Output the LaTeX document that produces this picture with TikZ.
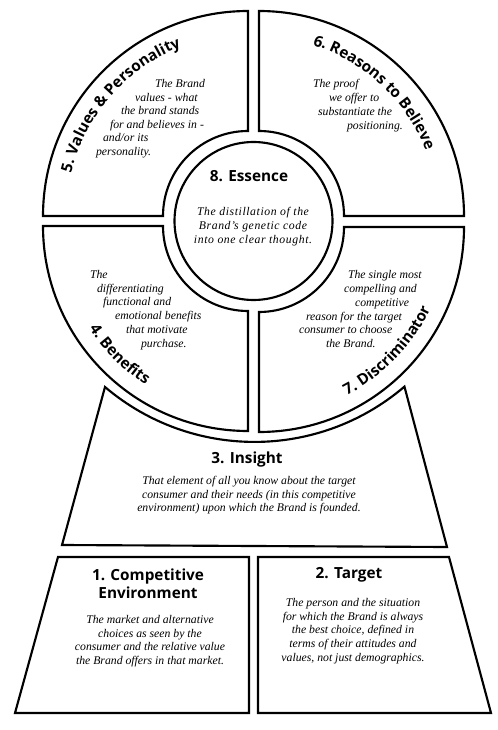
\documentclass[tikz,border=0pt]{standalone}
\usepackage{fontspec}
\setmainfont{Liberation Serif}
\setsansfont{Open Sans}
\usetikzlibrary{decorations.text}

\tikzset{every picture/.style={line width=1.6pt}}
\tikzset{
  body/.style={inner sep=0.75pt, font=\fontsize{8.8}{10.2}\selectfont\itshape},
  head/.style={inner sep=0.75pt, align=center, font=\fontsize{11.5}{13.5}\selectfont\sffamily\bfseries},
}
\newcommand\arcfont{\fontsize{11.5}{13.5}\selectfont\sffamily\bfseries}

\begin{document}
\begin{tikzpicture}[x=0.75pt,y=0.75pt,yscale=-1,xscale=1]
\useasboundingbox (0,0) rectangle (498,730);

%Shape: Trapezoid [id:insight]
\draw (62,545) -- (105,387) arc[start angle=130.35, end angle=49.5, radius=230.9] -- (447,547) -- cycle ;
%Shape: Quarter ring [id:values]
\draw (43,216) arc[start angle=180, end angle=270, radius=205] -- (248,131) arc[start angle=270, end angle=180, radius=85] -- cycle ;
%Shape: Quarter ring [id:reasons]
\draw (259,11) arc[start angle=270, end angle=360, radius=205] -- (344,216) arc[start angle=0, end angle=-90, radius=85] -- cycle ;
%Shape: Quarter ring [id:benefits]
\draw (43,226) arc[start angle=180, end angle=90, radius=205] -- (248,311) arc[start angle=90, end angle=180, radius=85] -- cycle ;
%Shape: Quarter ring [id:discrim]
\draw (464,227) arc[start angle=0, end angle=90, radius=205] -- (259,312) arc[start angle=90, end angle=0, radius=85] -- cycle ;
%Shape: Circle [id:essence]
\draw (253.5,221) circle[radius=79] ;
%Shape: Box [id:compenv]
\draw (58,557) -- (249,557) -- (249,713) -- (15,713) -- cycle ;
%Shape: Box [id:target]
\draw (258,557) -- (449,557) -- (491,713) -- (258,713) -- cycle ;

% Curved titles
\path [decorate, decoration={text along path, text align=center, text={|\arcfont|5. Values {\&} Personality}}] ([shift={(176:182)}]248,216) arc[start angle=176, end angle=266, radius=182] ;
\path [decorate, decoration={text along path, text align=center, text={|\arcfont|6. Reasons to Believe}}] ([shift={(268:179)}]259,216) arc[start angle=268, end angle=358, radius=179] ;
\path [decorate, decoration={text along path, text align=center, text={|\arcfont|4. Benefits}}] ([shift={(180:189)}]248,226) arc[start angle=180, end angle=90, radius=189] ;
\path [decorate, decoration={text along path, text align=center, text={|\arcfont|7. Discriminator}}] ([shift={(89:190)}]259,227) arc[start angle=89, end angle=-1, radius=190] ;

% Text Node
\draw (153,88) node (v1) [body, anchor=base west] {The Brand};
\draw (133,101.5) node (v2) [body, anchor=base west] {values - what};
\draw (119,115) node (v3) [body, anchor=base west] {the brand stands};
\draw (108,128.5) node (v4) [body, anchor=base west] {for and believes in -};
\draw (101,142) node (v5) [body, anchor=base west] {and/or its};
\draw (94,156) node (v6) [body, anchor=base west] {personality.};
% Text Node
\draw (311,88) node (r1) [body, anchor=base west] {The proof};
\draw (327,101.5) node (r2) [body, anchor=base west] {we offer to};
\draw (316,115.5) node (r3) [body, anchor=base west] {substantiate the};
\draw (345,129.5) node (r4) [body, anchor=base west] {positioning.};
% Text Node
\draw (88,278.5) node (b1) [body, anchor=base west] {The};
\draw (95,292.5) node (b2) [body, anchor=base west] {differentiating};
\draw (101,305.5) node (b3) [body, anchor=base west] {functional and};
\draw (113,319.5) node (b4) [body, anchor=base west] {emotional benefits};
\draw (124,333.5) node (b5) [body, anchor=base west] {that motivate};
\draw (139,347.5) node (b6) [body, anchor=base west] {purchase.};
% Text Node
\draw (346,278.5) node (d1) [body, anchor=base west] {The single most};
\draw (342,292.5) node (d2) [body, anchor=base west] {compelling and};
\draw (353,306.5) node (d3) [body, anchor=base west] {competitive};
\draw (304,320.5) node (d4) [body, anchor=base west] {reason for the target};
\draw (297,333.5) node (d5) [body, anchor=base west] {consumer to choose};
\draw (324,347.5) node (d6) [body, anchor=base west] {the Brand.};

% Text Node
\draw (249,176) node (esst) [head] {8. Essence};
\draw (253,227) node (essb) [body, align=center, font=\fontsize{8.8}{10.5}\selectfont\itshape\addfontfeature{LetterSpace=5}] {The distillation of the\\Brand's genetic code\\into one clear thought.};
% Text Node
\draw (247,460) node (inst) [head] {3. Insight};
\draw (249,495.5) node (insb) [body, align=center] {That element of all you know about the target\\consumer and their needs (in this competitive\\environment) upon which the Brand is founded.};
% Text Node
\draw (148,584) node (compt) [head] {1. Competitive\\Environment};
\draw (150,641) node (compb) [body, align=center] {The market and alternative\\choices as seen by the\\consumer and the relative value\\the Brand offers in that market.};
% Text Node
\draw (349,575) node (targt) [head] {2. Target};
\draw (353,631) node (targb) [body, align=center] {The person and the situation\\for which the Brand is always\\the best choice, defined in\\terms of their attitudes and\\values, not just demographics.};

\end{tikzpicture}
\end{document}
